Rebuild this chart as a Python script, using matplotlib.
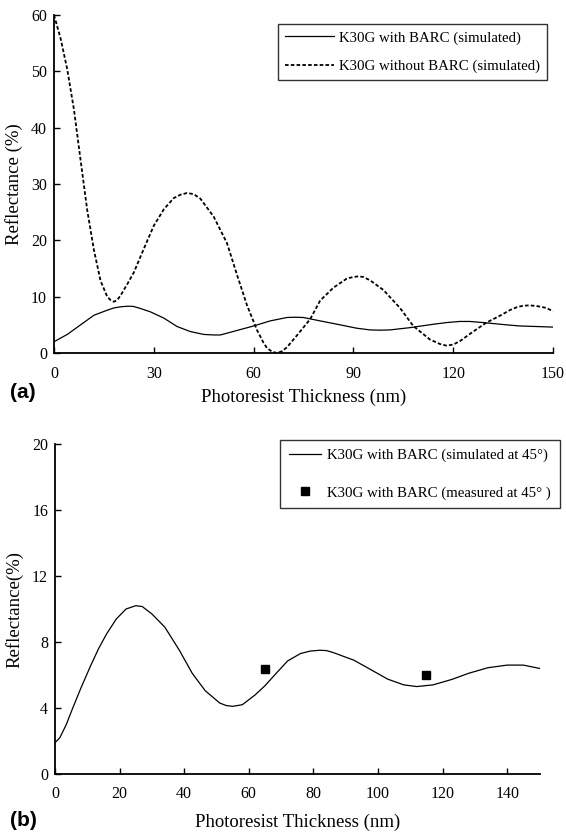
import matplotlib
matplotlib.use("Agg")
import matplotlib.pyplot as plt

plt.rcParams['font.family'] = ['Liberation Serif', 'DejaVu Serif']

# ---- Panel (a) data ----
t_nobarc = [0, 2, 4, 6, 8, 10, 12, 14, 16, 17, 18, 19, 20, 22, 24, 27, 30, 33, 36, 38, 40,
            42, 44, 48, 52, 55, 58, 61, 63, 64, 65.5, 67, 68.5, 70, 73, 77, 80, 84, 88,
            90, 91.5, 93, 95, 99, 104, 108, 113, 116, 118, 120, 122, 126, 130, 134, 137,
            139, 141, 143, 145, 148, 150]
r_nobarc = [60, 55.8, 50.3, 43.2, 34.2, 25.3, 18.3, 12.8, 10.0, 9.4, 9.1, 9.4, 10.2, 12.2,
            14.3, 18.5, 22.6, 25.5, 27.5, 28.1, 28.4, 28.2, 27.4, 24.2, 19.5, 13.9, 8.5,
            4.1, 1.8, 0.9, 0.25, 0.0, 0.3, 1.0, 3.1, 6.0, 9.3, 11.6, 13.2, 13.5, 13.6,
            13.5, 12.9, 11.2, 8.0, 4.8, 2.4, 1.6, 1.3, 1.5, 2.1, 3.8, 5.4, 6.6, 7.6, 8.1,
            8.4, 8.45, 8.35, 8.0, 7.4]

t_barc = [0, 4, 8, 12, 16, 18, 20, 22, 23, 24, 26, 29, 33, 37, 41, 45, 48, 50, 55, 60,
          65, 70, 72.5, 75, 80, 86, 91, 95, 98, 101, 107, 114, 118, 122, 125, 129, 136,
          140, 145, 150]
r_barc = [2.0, 3.3, 5.0, 6.7, 7.6, 8.0, 8.2, 8.3, 8.3, 8.25, 7.9, 7.3, 6.2, 4.7, 3.8, 3.3,
          3.2, 3.2, 4.0, 4.8, 5.7, 6.3, 6.35, 6.3, 5.7, 5.0, 4.4, 4.1, 4.05, 4.1, 4.5,
          5.1, 5.4, 5.6, 5.6, 5.4, 5.0, 4.8, 4.7, 4.6]

# ---- Panel (b) data ----
t_sim45 = [0, 1.5, 3.5, 5.5, 8, 11, 13.5, 16, 19, 22, 25, 27, 30, 34, 38.5, 42.5, 46.5, 51,
           53, 55, 58, 62, 65, 68, 72, 76, 79, 82, 84, 86, 92.5, 98, 103, 108, 112, 117,
           123, 128, 134, 140, 145, 150]
r_sim45 = [1.9, 2.2, 3.0, 4.0, 5.2, 6.55, 7.6, 8.5, 9.4, 10.0, 10.2, 10.15, 9.7, 8.9, 7.5,
           6.1, 5.05, 4.3, 4.15, 4.1, 4.2, 4.8, 5.35, 6.0, 6.85, 7.3, 7.45, 7.5, 7.48,
           7.37, 6.9, 6.3, 5.75, 5.4, 5.3, 5.4, 5.74, 6.1, 6.44, 6.6, 6.6, 6.4]

t_meas = [65, 115]
r_meas = [6.35, 6.0]

xticks_a = [0, 30, 60, 90, 120, 150]
yticks_a = [0, 10, 20, 30, 40, 50, 60]
xticks_b = [0, 20, 40, 60, 80, 100, 120, 140]
yticks_b = [0, 4, 8, 12, 16, 20]

W, H = 566, 832
fig = plt.figure(figsize=(W / 100, H / 100), dpi=100)


def style(ax):
    for s in ('top', 'right'):
        ax.spines[s].set_visible(False)
    for s in ('left', 'bottom'):
        ax.spines[s].set_linewidth(1.3)
    ax.tick_params(direction='in', length=4, width=1.0, labelsize=11.5)
    ax.tick_params(axis='x', pad=9)
    ax.tick_params(axis='y', pad=5)


# Panel (a)
ax1 = fig.add_axes([54 / W, 1 - 353 / H, 499 / W, 338 / H])
ax1.plot(t_barc, r_barc, color='black', lw=0.9, label='K30G with BARC (simulated)')
ax1.plot(t_nobarc, r_nobarc, color='black', lw=1.3, linestyle=(0, (2.0, 1.2)),
         label='K30G without BARC (simulated)')
ax1.set_xlim(0, 150)
ax1.set_ylim(0, 60)
ax1.set_xticks(xticks_a)
ax1.set_yticks(yticks_a)
style(ax1)
ax1.set_xlabel('Photoresist Thickness (nm)', fontsize=13.5, labelpad=5.5)
ax1.set_ylabel('Reflectance (%)', fontsize=13.5, labelpad=6)
leg1 = ax1.legend(loc='upper left', bbox_to_anchor=(278 / W, 1 - 24 / H),
                  bbox_transform=fig.transFigure, fontsize=10.7, frameon=True,
                  fancybox=False, edgecolor='black', handlelength=3.3,
                  handletextpad=0.3, borderpad=0.48, labelspacing=1.0, borderaxespad=0)
leg1.get_frame().set_linewidth(1.0)
fig.text(10 / W, 1 - 393 / H, '(a)', fontsize=15, fontweight='bold',
         family='Liberation Sans', va='center', ha='left')

# Panel (b)
ax2 = fig.add_axes([55 / W, 1 - 774 / H, 484.5 / W, 330 / H])
ax2.plot(t_sim45, r_sim45, color='black', lw=0.9,
         label='K30G with BARC (simulated at 45°)')
ax2.plot(t_meas, r_meas, linestyle='none', marker='s', markersize=6, color='black',
         label='K30G with BARC (measured at 45° )')
ax2.set_xlim(0, 150)
ax2.set_ylim(0, 20)
ax2.set_xticks(xticks_b)
ax2.set_yticks(yticks_b)
style(ax2)
ax2.set_xlabel('Photoresist Thickness (nm)', fontsize=13.5, labelpad=8)
ax2.set_ylabel('Reflectance(%)', fontsize=13.5, labelpad=6)
leg2 = ax2.legend(loc='upper left', bbox_to_anchor=(280 / W, 1 - 440 / H),
                  bbox_transform=fig.transFigure, fontsize=10.7, frameon=True,
                  fancybox=False, edgecolor='black', handlelength=2.2,
                  handletextpad=0.4, borderpad=0.58, labelspacing=1.6, borderaxespad=0)
leg2.get_frame().set_linewidth(1.0)
fig.text(10 / W, 1 - 821 / H, '(b)', fontsize=15, fontweight='bold',
         family='Liberation Sans', va='center', ha='left')

fig.savefig('out.png', dpi=100)
